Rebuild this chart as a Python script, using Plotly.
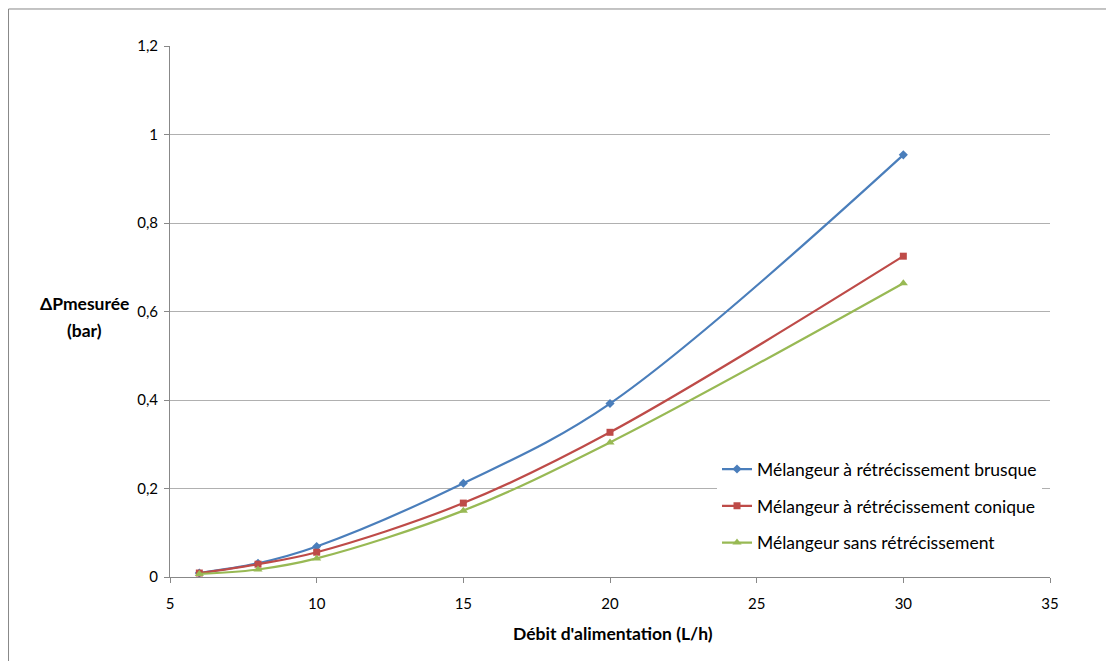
import plotly.graph_objects as go

debit = [6, 8, 10, 15, 20, 30]
brusque = [0.009, 0.031, 0.069, 0.212, 0.392, 0.954]
conique = [0.009, 0.029, 0.056, 0.167, 0.327, 0.725]
sans = [0.007, 0.017, 0.042, 0.150, 0.304, 0.664]

names = ["Mélangeur à rétrécissement brusque",
         "Mélangeur à rétrécissement conique",
         "Mélangeur sans rétrécissement"]
colors = ["#4A7EBB", "#BE4B48", "#98B954"]
symbols = ["diamond", "square", "triangle-up"]
sizes = [7, 7, 8]

fig = go.Figure()
for i, ys in enumerate([brusque, conique, sans]):
    fig.add_trace(go.Scatter(
        x=debit, y=ys, name=names[i], mode="lines+markers",
        line=dict(color=colors[i], width=2.2, shape="spline", smoothing=1.0),
        marker=dict(symbol=symbols[i], size=sizes[i], color=colors[i]),
        legendgroup=f"g{i}",
    ))

font = "Lato, 'Open Sans', sans-serif"
fig.update_layout(
    width=1114, height=661,
    margin=dict(l=162, r=72, t=38, b=92),
    paper_bgcolor="white", plot_bgcolor="white",
    separators=", ",
    font=dict(family=font, size=15, color="black"),
    xaxis=dict(range=[5, 35], dtick=5, tick0=5, showgrid=False, zeroline=False,
               showline=True, linecolor="#888888", linewidth=1,
               ticks="outside", ticklen=5, tickcolor="#888888",
               ticklabelstandoff=8, tickfont=dict(size=15)),
    yaxis=dict(range=[0, 1.2], dtick=0.2, showgrid=True, gridcolor="#B0B0B0",
               gridwidth=1, zeroline=False,
               showline=True, linecolor="#888888", linewidth=1,
               ticks="outside", ticklen=5, tickcolor="#888888",
               ticklabelstandoff=3, tickfont=dict(size=15)),
    legend=dict(x=0.6216, y=0.237, xanchor="left", yanchor="top",
                bgcolor="white", borderwidth=0, tracegroupgap=11,
                font=dict(size=17.5), itemwidth=30),
    showlegend=True,
)

fig.add_annotation(text="<b>ΔPmesurée</b>", xref="paper", yref="paper",
                   x=-0.0966, y=0.516, xanchor="center", yanchor="middle",
                   showarrow=False, font=dict(size=17.5))
fig.add_annotation(text="<b>(bar)</b>", xref="paper", yref="paper",
                   x=-0.0966, y=0.465, xanchor="center", yanchor="middle",
                   showarrow=False, font=dict(size=17.5))
fig.add_annotation(text="<b>Débit d'alimentation (L/h)</b>", xref="paper", yref="paper",
                   x=0.503, y=-0.1055, xanchor="center", yanchor="middle",
                   showarrow=False, font=dict(size=17.5))

# outer chart frame
fig.add_shape(type="rect", xref="paper", yref="paper",
              x0=-0.1835, y0=-0.3, x1=1.2, y1=1.0697,
              line=dict(color="#888888", width=1), layer="below")

fig.write_html("out.html")
